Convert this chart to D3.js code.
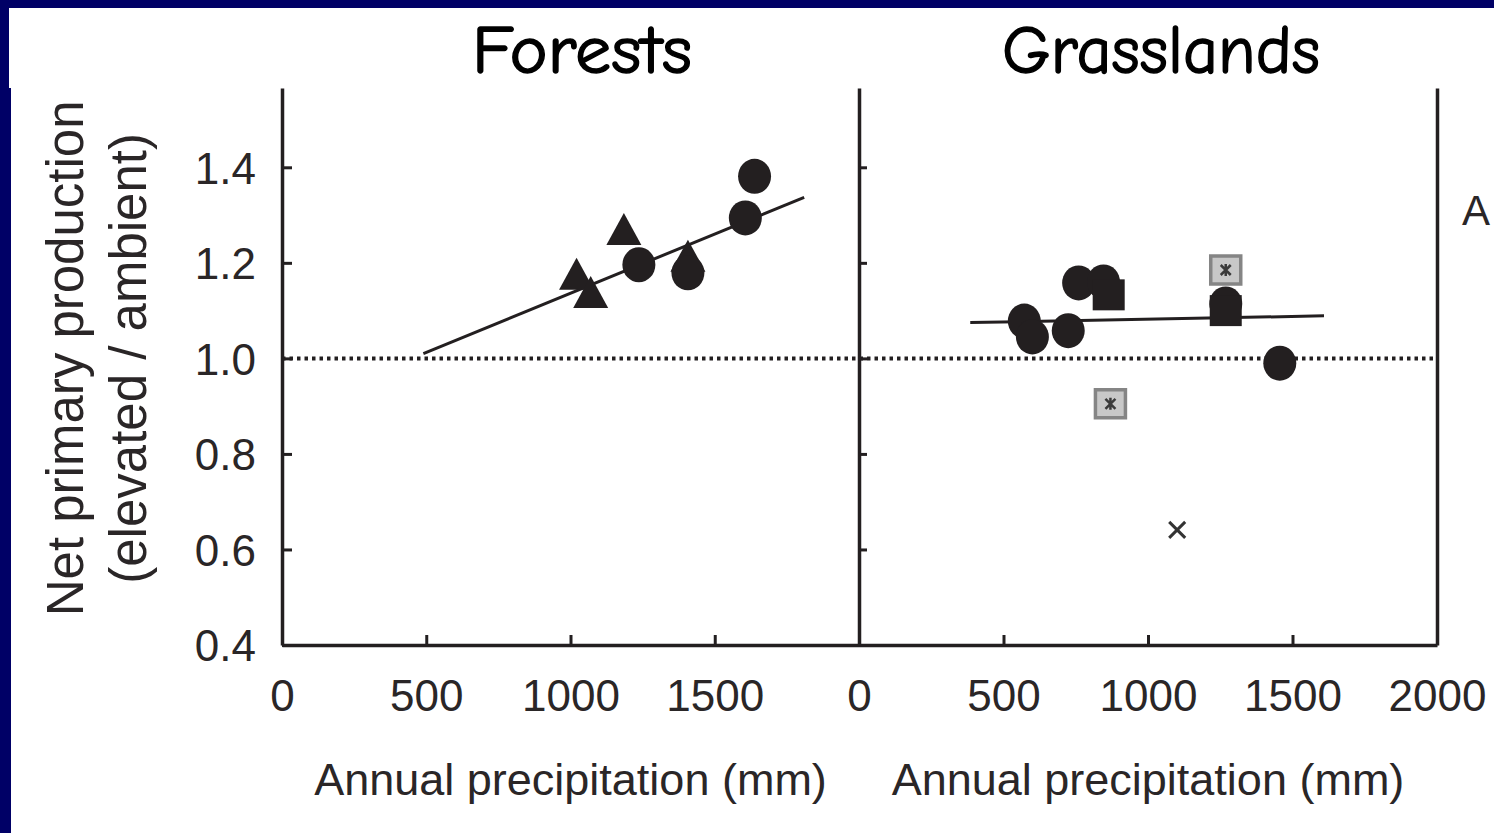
<!DOCTYPE html>
<html>
<head>
<meta charset="utf-8">
<script src="https://cdn.jsdelivr.net/npm/d3@7"></script>
<style>
  html, body { margin: 0; padding: 0; background: #fff; overflow: hidden; }
  svg { display: block; }
</style>
</head>
<body>
<svg id="chart" width="1494" height="833"></svg>
<script>
// ---- data ---------------------------------------------------------------
const panelTitles = ["Forests", "Grasslands"];
const xTickValues = [0, 500, 1000, 1500, 2000];
const yTickValues = [0.4, 0.6, 0.8, 1.0, 1.2, 1.4];
const yTickLabels = ["0.4", "0.6", "0.8", "1.0", "1.2", "1.4"];
const xAxisTitle = "Annual precipitation (mm)";
const yAxisTitleLines = ["Net primary production", "(elevated / ambient)"];
const panelLetter = "A";

// Forests: [annual precipitation (mm), NPP ratio]
const forestCircles   = [[1638, 1.381], [1606, 1.294], [1237, 1.196], [1407, 1.179]];
const forestTriangles = [[1021, 1.177], [1070, 1.139], [1185, 1.271], [1407, 1.215]];
const forestFit       = [[490, 1.010], [1810, 1.337]];

// Grasslands
const grassCircles = [[572, 1.078], [600, 1.045], [724, 1.058], [760, 1.158], [846, 1.160], [1269, 1.114], [1456, 0.990]];
const grassSquares = [[864, 1.133], [1269, 1.100]];
const grassBoxed   = [[1269, 1.185], [870, 0.905]];
const grassCrosses = [[1101, 0.641]];
const grassFit     = [[385, 1.075], [1609, 1.089]];

const referenceRatio = 1.0;

// ---- layout -------------------------------------------------------------
const ink = "#231f20";
const textInk = "#2a2627";
const svg = d3.select("#chart");

svg.append("rect").attr("width", 1494).attr("height", 833).attr("fill", "#fff");

const y = d3.scaleLinear().domain([0.4, 1.566]).range([645, 88]);
const xL = d3.scaleLinear().domain([0, 2000]).range([282, 859]);
const xR = d3.scaleLinear().domain([0, 2000]).range([859, 1437]);

const tickFont = "'Liberation Sans', Arial, Helvetica, sans-serif";

// Left y axis with labels, ticks pointing into the plot
const yAxisL = svg.append("g").attr("transform", `translate(${xL(0)},0)`)
  .call(d3.axisLeft(y).tickValues(yTickValues).tickFormat((d, i) => yTickLabels[i])
        .tickSizeInner(-10).tickSizeOuter(0).tickPadding(26));

// Right panel y axis: ticks only
const yAxisR = svg.append("g").attr("transform", `translate(${xR(0)},0)`)
  .call(d3.axisLeft(y).tickValues(yTickValues).tickFormat("")
        .tickSizeInner(-8).tickSizeOuter(0));

// Bottom axes
const xAxisL = svg.append("g").attr("transform", `translate(0,${y(0.4)})`)
  .call(d3.axisBottom(xL).tickValues(xTickValues.slice(0, 4)).tickFormat(d3.format("d"))
        .tickSizeInner(-10).tickSizeOuter(0).tickPadding(35));
const xAxisR = svg.append("g").attr("transform", `translate(0,${y(0.4)})`)
  .call(d3.axisBottom(xR).tickValues(xTickValues).tickFormat(d3.format("d"))
        .tickSizeInner(-10).tickSizeOuter(0).tickPadding(35));

// Right frame line of the grasslands panel
const yAxisFrame = svg.append("g").attr("transform", `translate(${xR(2000)},0)`)
  .call(d3.axisRight(y).tickValues([]).tickSizeOuter(0));

[yAxisL, yAxisR, xAxisL, xAxisR, yAxisFrame].forEach(g => {
  g.attr("font-family", tickFont).attr("font-size", 44);
  g.select(".domain").attr("stroke", ink).attr("stroke-width", 3.5);
  g.selectAll(".tick line").attr("stroke", ink).attr("stroke-width", 3);
  g.selectAll(".tick text").attr("fill", textInk);
});
yAxisL.selectAll(".tick text").attr("dy", "0.36em");

// Dotted reference line at ratio 1.0 across both panels
svg.append("line")
  .attr("x1", xL(0)).attr("x2", xR(2000))
  .attr("y1", y(referenceRatio)).attr("y2", y(referenceRatio))
  .attr("stroke", ink).attr("stroke-width", 4)
  .attr("stroke-dasharray", "3.5,4");

// ---- marks --------------------------------------------------------------
function drawPanel(x, circles, triangles, squares, boxed, crosses, fit) {
  const g = svg.append("g");
  g.append("path")
    .datum(fit)
    .attr("d", d3.line().x(d => x(d[0])).y(d => y(d[1])))
    .attr("stroke", ink).attr("stroke-width", 3).attr("fill", "none");

  g.selectAll("path.tri").data(triangles).join("path")
    .attr("class", "tri")
    .attr("d", d => {
      const cx = x(d[0]), cy = y(d[1]);
      return `M${cx},${cy - 16}L${cx + 17.5},${cy + 16}L${cx - 17.5},${cy + 16}Z`;
    })
    .attr("fill", ink);

  g.selectAll("ellipse").data(circles).join("ellipse")
    .attr("cx", d => x(d[0])).attr("cy", d => y(d[1]))
    .attr("rx", 16.5).attr("ry", 17.5)
    .attr("fill", ink);

  g.selectAll("rect.sq").data(squares).join("rect")
    .attr("class", "sq")
    .attr("x", d => x(d[0]) - 16).attr("y", d => y(d[1]) - 15.5)
    .attr("width", 32).attr("height", 31)
    .attr("fill", ink);

  const bx = g.selectAll("g.boxed").data(boxed).join("g")
    .attr("class", "boxed")
    .attr("transform", d => `translate(${x(d[0])},${y(d[1])})`);
  bx.append("rect")
    .attr("x", -15).attr("y", -14).attr("width", 30).attr("height", 28)
    .attr("fill", "#c8c8c8").attr("stroke", "#858585").attr("stroke-width", 3.5);
  bx.append("path")
    .attr("d", "M-5,-5L5,5M5,-5L-5,5M0,-6V6")
    .attr("stroke", "#3a3a3a").attr("stroke-width", 2.5);

  g.selectAll("path.cross").data(crosses).join("path")
    .attr("class", "cross")
    .attr("d", d => {
      const cx = x(d[0]), cy = y(d[1]);
      return `M${cx - 8},${cy - 8}L${cx + 8},${cy + 8}M${cx + 8},${cy - 8}L${cx - 8},${cy + 8}`;
    })
    .attr("stroke", "#333").attr("stroke-width", 3);
}

drawPanel(xL, forestCircles, forestTriangles, [], [], [], forestFit);
drawPanel(xR, grassCircles, [], grassSquares, grassBoxed, grassCrosses, grassFit);

// ---- text ---------------------------------------------------------------
// x-axis titles, centred under the 1000 mm tick of each panel
[xL, xR].forEach(x => {
  svg.append("text")
    .attr("x", x(1000)).attr("y", 795)
    .attr("text-anchor", "middle")
    .attr("font-family", tickFont).attr("font-size", 45)
    .attr("fill", textInk)
    .text(xAxisTitle);
});

// y-axis title, two rotated lines
const yTitleBaselines = [83, 146];
yAxisTitleLines.forEach((line, i) => {
  svg.append("text")
    .attr("transform", `translate(${yTitleBaselines[i]},${y(referenceRatio)}) rotate(-90)`)
    .attr("text-anchor", "middle")
    .attr("font-family", tickFont).attr("font-size", 51)
    .attr("fill", textInk)
    .text(line);
});

// Panel letter at the right margin
svg.append("text")
  .attr("x", 1462).attr("y", 225)
  .attr("font-family", tickFont).attr("font-size", 42)
  .attr("fill", textInk)
  .text(panelLetter);

// Title band
svg.append("rect").attr("x", 0).attr("y", 0).attr("width", 1494).attr("height", 88).attr("fill", "#fff");
const titleSpec = [{x: 472, len: 220}, {x: 1002, len: 318}];
panelTitles.forEach((t, i) => {
  svg.append("text")
    .attr("x", titleSpec[i].x).attr("y", 73)
    .attr("font-family", "'Comic Sans MS', 'Comic Neue', 'DejaVu Sans', sans-serif")
    .attr("font-size", 68)
    .attr("textLength", titleSpec[i].len)
    .attr("lengthAdjust", "spacingAndGlyphs")
    .attr("fill", "#000")
    .attr("stroke", "#000").attr("stroke-width", 1.4).attr("stroke-linejoin", "round")
    .text(t);
});

// Slide frame
const navy = "#000066";
svg.append("rect").attr("x", 0).attr("y", 0).attr("width", 1494).attr("height", 8).attr("fill", navy);
svg.append("rect").attr("x", 0).attr("y", 0).attr("width", 9).attr("height", 833).attr("fill", navy);
svg.append("rect").attr("x", 0).attr("y", 88).attr("width", 11).attr("height", 745).attr("fill", navy);
</script>
</body>
</html>
